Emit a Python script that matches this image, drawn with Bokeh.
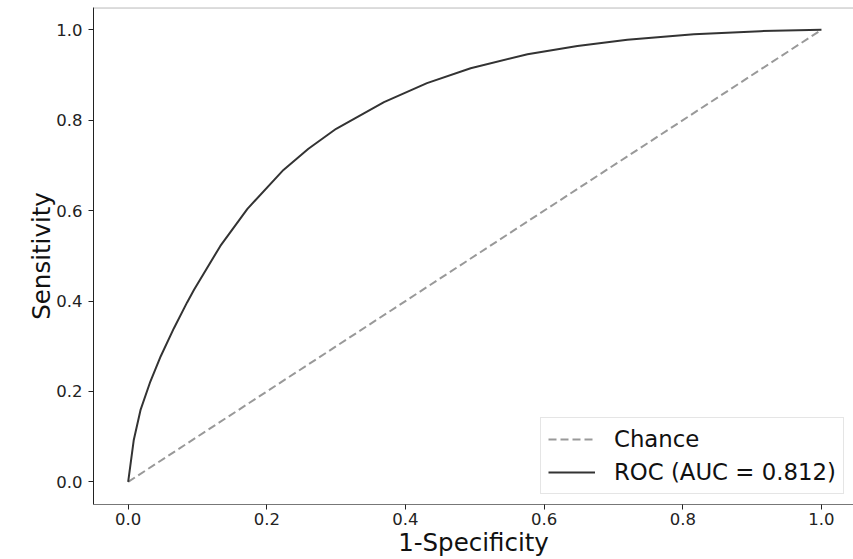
from bokeh.plotting import figure
from bokeh.models import Span, Range1d, Legend, LegendItem, FixedTicker
from bokeh.embed import file_html
from bokeh.resources import INLINE

# ROC curve (false positive rate, true positive rate)
fpr = [0.0, 0.008, 0.018, 0.032, 0.047, 0.066, 0.085, 0.095, 0.133, 0.172,
       0.224, 0.260, 0.300, 0.369, 0.431, 0.494, 0.576, 0.648, 0.720, 0.816,
       0.912, 1.0]
tpr = [0.0, 0.092, 0.160, 0.222, 0.278, 0.340, 0.397, 0.425, 0.522, 0.604,
       0.690, 0.737, 0.781, 0.840, 0.882, 0.915, 0.946, 0.964, 0.978, 0.990,
       0.997, 1.0]
chance_x = [0.0, 1.0]
chance_y = [0.0, 1.0]

tick_values = [0.0, 0.2, 0.4, 0.6, 0.8, 1.0]
tick_labels = ["0.0", "0.2", "0.4", "0.6", "0.8", "1.0"]

x_label = "1-Specificity"
y_label = "Sensitivity"
chance_label = "Chance"
roc_label = "ROC (AUC = 0.812)"

FONT = "DejaVu Sans"

p = figure(width=853, height=559, output_backend="svg", toolbar_location=None,
           x_range=Range1d(-0.05, 1.0462), y_range=Range1d(-0.05, 1.0493),
           min_border_left=93, min_border_right=0, min_border_top=7,
           min_border_bottom=55)
p.grid.visible = False
p.outline_line_color = None
p.background_fill_color = "white"
p.border_fill_color = "white"

for ax in (p.xaxis[0], p.yaxis[0]):
    ax.ticker = FixedTicker(ticks=tick_values)
    ax.major_label_overrides = {v: l for v, l in zip(tick_values, tick_labels)}
    ax.minor_tick_line_color = None
    ax.major_tick_in = 0
    ax.major_tick_out = 5
    ax.major_tick_line_color = "#222222"
    ax.major_label_text_font = FONT
    ax.major_label_text_font_size = "16.5px"
    ax.major_label_text_color = "#222222"
    ax.axis_label_text_font = FONT
    ax.axis_label_text_font_size = "24.5px"
    ax.axis_label_text_font_style = "normal"
    ax.axis_label_text_color = "#111111"

p.xaxis.axis_label = x_label
p.yaxis.axis_label = y_label
p.xaxis.axis_line_color = "#777777"
p.yaxis.axis_line_color = "#222222"
p.xaxis.major_label_standoff = 3
p.yaxis.major_label_standoff = 6
p.xaxis.axis_label_standoff = 0
p.yaxis.axis_label_standoff = -3

top_spine = Span(location=1.0485, dimension="width", line_color="#999999", line_width=1)
p.add_layout(top_spine)

r_chance = p.line(chance_x, chance_y, line_color="#999999", line_width=2,
                  line_dash="8 4")
r_roc = p.line(fpr, tpr, line_color="#333333", line_width=2,
               line_join="round")

legend = Legend(items=[LegendItem(label=chance_label, renderers=[r_chance]),
                       LegendItem(label=roc_label, renderers=[r_roc])],
                location=(447, 10), margin=0)
legend.label_text_font = FONT
legend.label_text_font_size = "22.8px"
legend.label_text_color = "#111111"
legend.glyph_width = 47
legend.glyph_height = 20
legend.label_standoff = 19
legend.label_height = 28
legend.padding = 7
legend.spacing = 5
legend.border_line_color = "#cccccc"
legend.border_line_width = 1
legend.background_fill_alpha = 0.8
p.add_layout(legend, "center")

open("out.html", "w").write(file_html(p, INLINE))
